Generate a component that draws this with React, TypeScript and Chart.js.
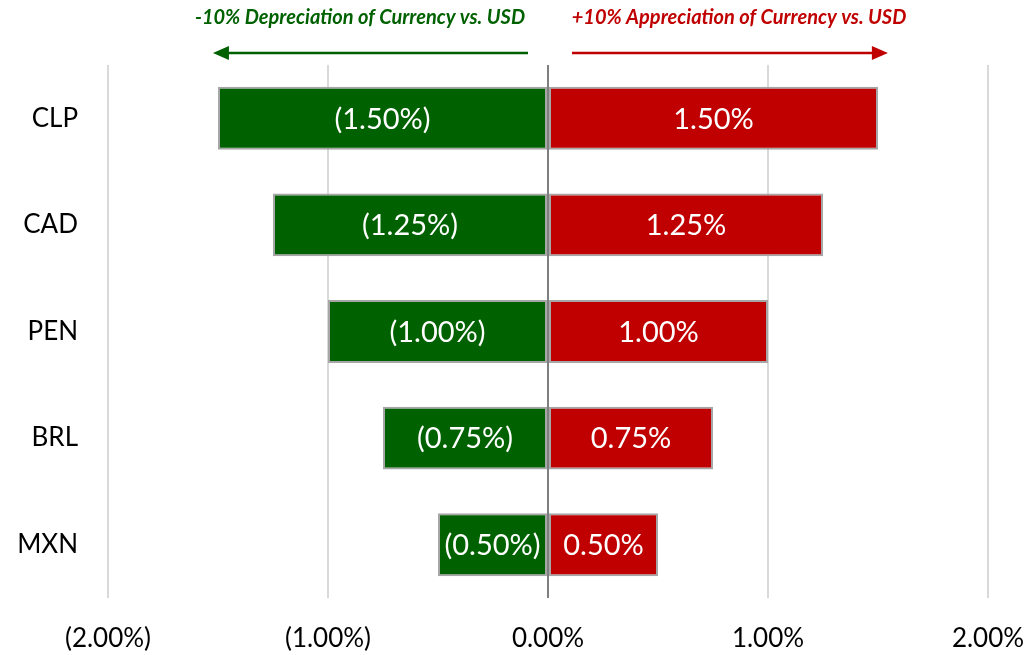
import React, { useEffect, useRef } from "react";
import { Chart, registerables } from "chart.js";

Chart.register(...registerables);

const currencies = ["CLP", "CAD", "PEN", "BRL", "MXN"];
const depreciation = [-1.5, -1.25, -1.0, -0.75, -0.5];
const appreciation = [1.5, 1.25, 1.0, 0.75, 0.5];
const axisMin = -2;
const axisMax = 2;
const leftNote = "-10% Depreciation of Currency vs. USD";
const rightNote = "+10% Appreciation of Currency vs. USD";

const GREEN = "#006100";
const RED = "#C00000";
const FONT = "Lato, 'Open Sans', sans-serif";

const fmt = (v: number) =>
  v < 0 ? `(${Math.abs(v).toFixed(2)}%)` : `${v.toFixed(2)}%`;

const overlayPlugin = {
  id: "overlay",
  afterDatasetsDraw(chart: any) {
    const { ctx, chartArea, scales } = chart;
    const x0 = scales.x.getPixelForValue(0);
    ctx.save();
    ctx.strokeStyle = "#7f7f7f";
    ctx.lineWidth = 2;
    ctx.beginPath();
    ctx.moveTo(x0, chartArea.top);
    ctx.lineTo(x0, chartArea.bottom);
    ctx.stroke();
    ctx.fillStyle = "#ffffff";
    ctx.font = `29px ${FONT}`;
    ctx.textAlign = "center";
    ctx.textBaseline = "middle";
    chart.data.datasets.forEach((ds: any, di: number) => {
      const meta = chart.getDatasetMeta(di);
      meta.data.forEach((el: any, i: number) => {
        const cx = (el.x + el.base) / 2;
        ctx.fillText(fmt(ds.data[i]), cx, el.y + 1);
      });
    });
    ctx.restore();
  },
  afterDraw(chart: any) {
    const { ctx, scales } = chart;
    const x0 = scales.x.getPixelForValue(0);
    const pxPerUnit = scales.x.getPixelForValue(1) - x0;
    ctx.save();
    ctx.font = `italic bold 20px ${FONT}`;
    ctx.textAlign = "center";
    ctx.textBaseline = "middle";
    ctx.fillStyle = GREEN;
    ctx.fillText(leftNote, x0 - 188, 18);
    ctx.fillStyle = RED;
    ctx.fillText(rightNote, x0 + 191, 18);

    const y = 53;
    const drawArrow = (from: number, to: number, color: string) => {
      const dir = Math.sign(to - from);
      ctx.strokeStyle = color;
      ctx.fillStyle = color;
      ctx.lineWidth = 2.5;
      ctx.beginPath();
      ctx.moveTo(from, y);
      ctx.lineTo(to - dir * 14, y);
      ctx.stroke();
      ctx.beginPath();
      ctx.moveTo(to, y);
      ctx.lineTo(to - dir * 16, y - 7);
      ctx.lineTo(to - dir * 16, y + 7);
      ctx.closePath();
      ctx.fill();
    };
    drawArrow(x0 - 20, x0 - 1.523 * pxPerUnit, GREEN);
    drawArrow(x0 + 24, x0 + 1.545 * pxPerUnit, RED);
    ctx.restore();
  },
};

export default function App() {
  const ref = useRef<HTMLCanvasElement>(null);
  useEffect(() => {
    if (!ref.current) return;
    const chart = new Chart(ref.current, {
      type: "bar",
      data: {
        labels: currencies,
        datasets: [
          {
            label: "Depreciation",
            data: depreciation,
            backgroundColor: GREEN,
            borderColor: "#a6a6a6",
            borderWidth: 2,
            borderSkipped: false,
            barPercentage: 0.59,
            categoryPercentage: 1,
          },
          {
            label: "Appreciation",
            data: appreciation,
            backgroundColor: RED,
            borderColor: "#a6a6a6",
            borderWidth: 2,
            borderSkipped: false,
            barPercentage: 0.59,
            categoryPercentage: 1,
          },
        ],
      },
      options: {
        indexAxis: "y",
        responsive: false,
        animation: false,
        devicePixelRatio: 1,
        layout: { padding: { top: 65, right: 43, left: 0, bottom: 0 } },
        plugins: {
          legend: { display: false },
          tooltip: { enabled: false },
        },
        scales: {
          x: {
            stacked: true,
            min: axisMin,
            max: axisMax,
            border: { display: false },
            grid: {
              color: (c: any) =>
                c.tick && c.tick.value === 0 ? "rgba(0,0,0,0)" : "#d9d9d9",
              lineWidth: 2,
              drawTicks: false,
            },
            ticks: {
              stepSize: 1,
              padding: 25,
              color: "#000000",
              font: { family: FONT, size: 26 },
              callback: (v: any) => fmt(Number(v)),
            },
            afterFit: (s: any) => {
              s.height = 57;
              s.paddingLeft = 0;
              s.paddingRight = 0;
            },
          },
          y: {
            stacked: true,
            border: { display: false },
            grid: { display: false, drawTicks: false },
            ticks: {
              padding: 30,
              color: "#000000",
              font: { family: FONT, size: 26 },
            },
            afterFit: (s: any) => {
              s.width = 108;
              s.paddingTop = 0;
              s.paddingBottom = 0;
            },
          },
        },
      },
      plugins: [overlayPlugin],
    } as any);
    return () => chart.destroy();
  }, []);
  return (
    <div style={{ position: "absolute", left: 0, top: 0, width: 1031, height: 655, background: "#fff" }}>
      <canvas ref={ref} width={1031} height={655} style={{ display: "block" }} />
    </div>
  );
}
